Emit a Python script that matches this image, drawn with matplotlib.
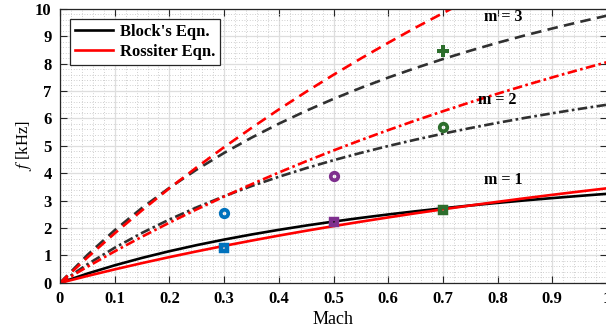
import numpy as np
import matplotlib
matplotlib.use('Agg')
import matplotlib.pyplot as plt
from matplotlib.ticker import MultipleLocator

plt.rcParams['font.family'] = ['Liberation Serif', 'DejaVu Serif']
plt.rcParams['mathtext.fontset'] = 'stix'

# Mach numbers where the curves were sampled
mach = [0.0, 0.05, 0.1, 0.15, 0.2, 0.25, 0.3, 0.35, 0.4, 0.45, 0.5,
        0.55, 0.6, 0.65, 0.7, 0.75, 0.8, 0.85, 0.9, 0.95, 1.0]

# Block's equation, modes 1-3 [kHz]
block_m1 = [0.0, 0.339, 0.641, 0.912, 1.156, 1.378, 1.580, 1.765, 1.935, 2.092, 2.237,
            2.371, 2.496, 2.612, 2.721, 2.823, 2.919, 3.009, 3.093, 3.173, 3.249]
block_m2 = [0.0, 0.678, 1.282, 1.824, 2.312, 2.756, 3.160, 3.530, 3.870, 4.184, 4.474,
            4.742, 4.992, 5.224, 5.442, 5.646, 5.838, 6.018, 6.186, 6.346, 6.498]
block_m3 = [0.0, 1.017, 1.923, 2.736, 3.468, 4.134, 4.740, 5.295, 5.805, 6.276, 6.711,
            7.113, 7.488, 7.836, 8.163, 8.469, 8.757, 9.027, 9.279, 9.519, 9.747]

# Rossiter's equation, modes 1-3 [kHz]
ross_m1 = [0.0, 0.252, 0.493, 0.722, 0.941, 1.150, 1.350, 1.541, 1.725, 1.901, 2.070,
           2.232, 2.388, 2.539, 2.683, 2.823, 2.957, 3.087, 3.212, 3.333, 3.450]
ross_m2 = [0.0, 0.588, 1.150, 1.685, 2.196, 2.683, 3.150, 3.596, 4.025, 4.436, 4.830,
           5.208, 5.572, 5.924, 6.260, 6.587, 6.900, 7.203, 7.495, 7.777, 8.050]
ross_m3 = [0.0, 0.924, 1.808, 2.647, 3.450, 4.217, 4.950, 5.650, 6.325, 6.970, 7.590,
           8.184, 8.756, 9.310, 9.838, 10.351, 10.842, 11.319, 11.777, 12.221, 12.650]

# measured peaks
meas_mach = [0.3, 0.5, 0.7]
meas_sq = [1.28, 2.23, 2.66]
meas_circ = [2.54, 3.91, 5.70]
meas_plus_mach = [0.7]
meas_plus = [8.47]
meas_colors = ['#0072BD', '#7E2F8E', '#2D6E2D']

fig = plt.figure(figsize=(6.06, 3.32), dpi=100)
ax = fig.add_axes([60/606, 49.1/332, 547/606, 274.2/332])

lw = 1.9
dashdot = (0, (3.6, 1.3, 1.0, 1.3))
dashed = (0, (4.0, 2.4))
gray = '#303030'

ax.plot(mach, block_m1, color='k', lw=lw, label="Block's Eqn.")
ax.plot(mach, ross_m1, color='#FF0000', lw=lw, label='Rossiter Eqn.')
ax.plot(mach, block_m2, color=gray, lw=lw, ls=dashdot)
ax.plot(mach, ross_m2, color='#FF0000', lw=lw, ls=dashdot)
ax.plot(mach, block_m3, color=gray, lw=lw, ls=dashed)
ax.plot(mach, ross_m3, color='#FF0000', lw=lw, ls=dashed)

for m, s, c, col in zip(meas_mach, meas_sq, meas_circ, meas_colors):
    ax.plot(m, s, ls='none', marker='s', ms=5.0, mfc='none', mec=col, mew=3.2, zorder=5)
    ax.plot(m, c, ls='none', marker='o', ms=5.4, mfc='none', mec=col, mew=2.7, zorder=5)
ax.plot(meas_plus_mach, meas_plus, ls='none', marker='P', ms=8.5, mew=0,
        color=meas_colors[2], zorder=5)

ax.text(0.81, 9.71, 'm = 3', fontsize=11.5, fontweight='bold', ha='center', va='center')
ax.text(0.80, 6.67, 'm = 2', fontsize=11.5, fontweight='bold', ha='center', va='center')
ax.text(0.81, 3.75, 'm = 1', fontsize=11.5, fontweight='bold', ha='center', va='center')

ax.set_xlim(0, 1)
ax.set_ylim(0, 10)
ax.xaxis.set_major_locator(MultipleLocator(0.1))
ax.yaxis.set_major_locator(MultipleLocator(1))
ax.xaxis.set_minor_locator(MultipleLocator(0.02))
ax.yaxis.set_minor_locator(MultipleLocator(0.2))
ax.set_xticks(np.arange(0, 1.01, 0.1))
ax.set_xticklabels(['0', '0.1', '0.2', '0.3', '0.4', '0.5', '0.6', '0.7', '0.8', '0.9', '1'])

ax.grid(which='major', color='#dedede', lw=0.9, ls='-')
ax.grid(which='minor', color='#c0c0c0', lw=0.6, ls=(0, (1, 2.2)))
ax.set_axisbelow(True)

ax.tick_params(which='major', direction='in', length=5, width=0.8, top=True, right=True,
               labelsize=12, colors='#262626', labelcolor='k', pad=6)
ax.tick_params(which='minor', length=0)
for lab in ax.get_xticklabels() + ax.get_yticklabels():
    lab.set_fontweight('bold')
for sp in ax.spines.values():
    sp.set_color('#262626')
    sp.set_linewidth(0.9)

ax.set_xlabel('Mach', fontsize=13, labelpad=3)
ax.set_ylabel('$f$ [kHz]', fontsize=12, labelpad=1)

leg = ax.legend(loc='upper left', bbox_to_anchor=(0.018, 0.962), borderaxespad=0,
                prop={'weight': 'bold', 'size': 12}, handlelength=2.3, handletextpad=0.4,
                fancybox=False, edgecolor='#262626', framealpha=1, borderpad=0.3,
                labelspacing=0.25)
leg.get_frame().set_linewidth(0.9)

fig.savefig('out.png', dpi=100)
